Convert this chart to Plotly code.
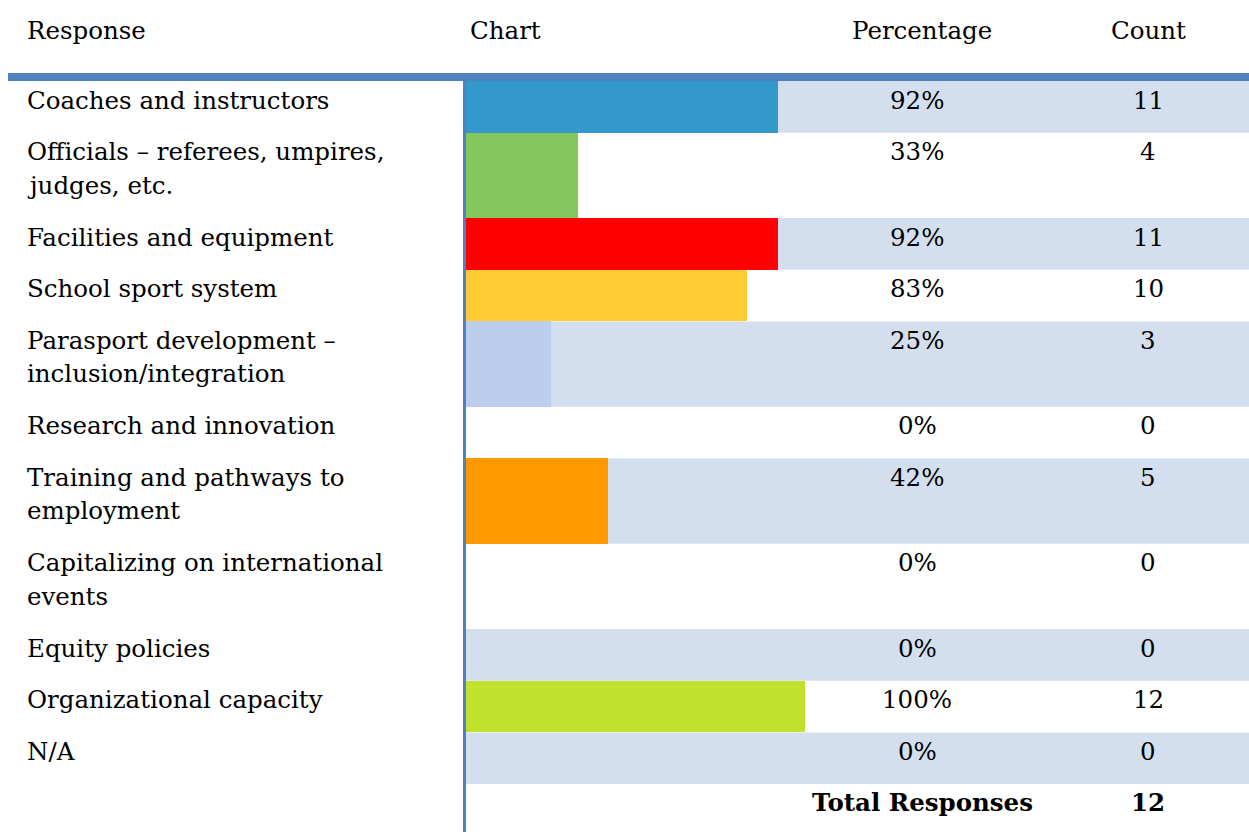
import plotly.graph_objects as go

# ---- data ----
responses = [
    "Coaches and instructors",
    "Officials – referees, umpires,<br>judges, etc.",
    "Facilities and equipment",
    "School sport system",
    "Parasport development –<br>inclusion/integration",
    "Research and innovation",
    "Training and pathways to<br>employment",
    "Capitalizing on international<br>events",
    "Equity policies",
    "Organizational capacity",
    "N/A",
]
percentages = [92, 33, 92, 83, 25, 0, 42, 0, 0, 100, 0]
counts = [11, 4, 11, 10, 3, 0, 5, 0, 0, 12, 0]
total_responses = 12
bar_colors = ["#3399cc", "#84c75c", "#ff0000", "#ffcc33", "#bccdee", "#cccccc",
              "#ff9900", "#cccccc", "#cccccc", "#c0e22c", "#cccccc"]
headers = ["Response", "Chart", "Percentage", "Count"]

# ---- layout geometry (pixels) ----
W, H = 1249, 832
FONT = "DejaVu Serif"
FS = 24.5
BAND = "#d3dfef"
LINE = "#4f81bd"
x0_px, x100_px = 466, 805
scale = (x100_px - x0_px) / 100.0
xr = [-x0_px / scale, (W - x0_px) / scale]

top = 81.0
one_line, extra_line = 51.7, 33.6
tops, heights = [], []
for r in responses:
    n = r.count("<br>") + 1
    h = one_line + extra_line * (n - 1)
    tops.append(top)
    heights.append(h)
    top += h
centers = [t + h / 2 for t, h in zip(tops, heights)]

shapes = []
for i, (t, h) in enumerate(zip(tops, heights)):
    if i % 2 == 0:
        shapes.append(dict(type="rect", xref="x", yref="y", x0=0, x1=xr[1],
                           y0=t, y1=t + h, fillcolor=BAND, line_width=0, layer="below"))
# header rule and vertical rule
shapes.append(dict(type="rect", xref="paper", yref="y", x0=8 / W, x1=1, y0=73, y1=81,
                   fillcolor=LINE, line_width=0))
shapes.append(dict(type="rect", xref="paper", yref="y", x0=463 / W, x1=466 / W, y0=81, y1=H,
                   fillcolor=LINE, line_width=0))

fig = go.Figure()
fig.add_trace(go.Bar(
    x=percentages, y=centers, width=heights, base=0, orientation="h",
    marker=dict(color=bar_colors, line_width=0), hoverinfo="skip", showlegend=False,
))

ann = []
def add(text, xpx, ypx, xanchor="left", bold=False):
    ann.append(dict(text=f"<b>{text}</b>" if bold else text, xref="paper", yref="y",
                    x=xpx / W, y=ypx, xanchor=xanchor, yanchor="middle", showarrow=False,
                    align="left", borderpad=0,
                    font=dict(family=FONT, size=FS, color="#000000")))

add(headers[0], 26, 30)
add(headers[1], 469, 30)
add(headers[2], 922, 30, "center")
add(headers[3], 1148, 30, "center")

for r, p, c, t in zip(responses, percentages, counts, tops):
    lines = r.split("<br>")
    for k, ln in enumerate(lines):
        add(ln, 26, t + 19 + k * 33.5)
    add(f"{p}%", 917, t + 19, "center")
    add(str(c), 1148, t + 19, "center")

add("Total Responses", 1034, 802, "right", bold=True)
add(str(total_responses), 1148, 802, "center", bold=True)

fig.update_layout(
    width=W, height=H, margin=dict(l=0, r=0, t=0, b=0),
    paper_bgcolor="white", plot_bgcolor="white",
    xaxis=dict(range=xr, visible=False, fixedrange=True),
    yaxis=dict(range=[H, 0], visible=False, fixedrange=True),
    shapes=shapes, annotations=ann, bargap=0,
)
fig.write_html("out.html", config={"displayModeBar": False},
               post_script="document.body.style.margin='0';document.body.style.overflow='hidden';")
